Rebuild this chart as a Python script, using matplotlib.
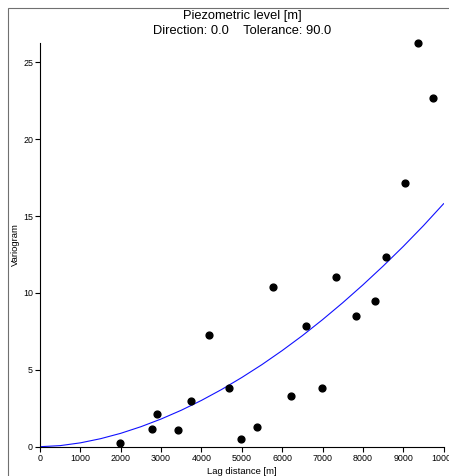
import matplotlib
matplotlib.use("Agg")
import matplotlib.pyplot as plt
from matplotlib.patches import Rectangle

plt.rcParams['font.family'] = ['Liberation Sans', 'DejaVu Sans']

title_lines = ["Piezometric level [m]", "Direction: 0.0    Tolerance: 90.0"]
x_label = "Lag distance [m]"
y_label = "Variogram"

# experimental variogram (lag, value)
lag = [1976, 2785, 2901, 3431, 3729, 4183, 4671, 4969, 5366, 5770,
       6224, 6590, 6985, 7332, 7828, 8299, 8572, 9050, 9373, 9730]
gamma = [0.24, 1.15, 2.1, 1.06, 3.0, 7.28, 3.83, 0.48, 1.26, 10.4,
         3.29, 7.86, 3.79, 11.05, 8.51, 9.49, 12.35, 17.17, 26.25, 22.7]

# model curve
model_lag = [0, 500, 1000, 1500, 2000, 2500, 3000, 3500, 4000, 4500, 5000,
             5500, 6000, 6500, 7000, 7500, 8000, 8500, 9000, 9500, 10000]
model_gamma = [0.0, 0.07, 0.25, 0.52, 0.87, 1.30, 1.80, 2.37, 3.01, 3.72, 4.50,
               5.34, 6.25, 7.22, 8.26, 9.36, 10.52, 11.74, 13.02, 14.37, 15.8]

xticks = [0, 1000, 2000, 3000, 4000, 5000, 6000, 7000, 8000, 9000, 10000]
yticks = [0, 5, 10, 15, 20, 25]

W, H = 449, 476
fig = plt.figure(figsize=(W / 100, H / 100), dpi=100)
fig.patches.append(Rectangle((8 / W, -0.1), 1.2, 1 - 8 / H + 0.1, transform=fig.transFigure,
                             fill=False, edgecolor='#707070', linewidth=0.8))

ax = fig.add_axes([40 / W, 1 - 446.7 / H, (443.6 - 40) / W, (446.7 - 42.7) / H])
ax.plot(model_lag, model_gamma, color='#1010ff', linewidth=0.8, zorder=2)
ax.scatter(lag, gamma, s=24, color='black', zorder=3, clip_on=False)

ax.set_xlim(0, 10000)
ax.set_ylim(0, 26.27)
ax.set_xticks(xticks)
ax.set_yticks(yticks)
ax.set_xticklabels([str(t) for t in xticks])
ax.set_yticklabels([str(t) for t in yticks])
for s in ['top', 'right']:
    ax.spines[s].set_visible(False)
for s in ['left', 'bottom']:
    ax.spines[s].set_linewidth(0.8)
ax.tick_params(axis='both', direction='out', length=3.5, width=0.8, labelsize=6.4, pad=1.5)

ax.set_xlabel(x_label, fontsize=6.8, labelpad=3)
ax.set_ylabel(y_label, fontsize=6.8, labelpad=2)

fig.text(242 / W, 1 - 16 / H, title_lines[0], ha='center', va='center', fontsize=9.3)
fig.text(242 / W, 1 - 31 / H, title_lines[1], ha='center', va='center', fontsize=9.3)

fig.savefig("out.png", dpi=100)
